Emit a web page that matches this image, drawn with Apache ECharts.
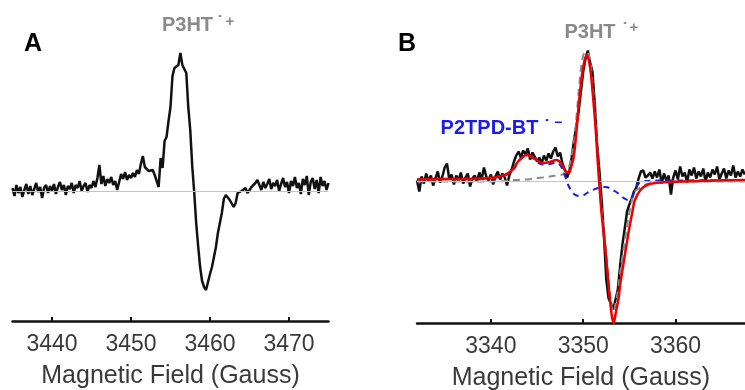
<!DOCTYPE html>
<html>
<head>
<meta charset="utf-8">
<script src="https://cdn.jsdelivr.net/npm/echarts@6/dist/echarts.min.js"></script>
<style>
  html, body { margin: 0; padding: 0; background: #fff; }
  #chart { width: 745px; height: 390px; }
</style>
</head>
<body>
<div id="chart"></div>
<script>
// ---- Panel A: P3HT radical cation, EPR first-derivative spectrum ----
const fieldStartA = 3435;      // Gauss, first sample
const fieldStepA = 0.25;       // Gauss per sample
const traceA = [
  0.03, -0.05, 0.06, -0.02, 0.04, -0.06, 0.01, 0.07, -0.03, 0.05,
  -0.04, 0.02, 0.08, -0.01, 0.04, -0.07, 0.03, 0.06, -0.02, 0.05,
  0.00, 0.07, -0.03, 0.04, 0.09, 0.01, 0.06, -0.04, 0.05, 0.02,
  0.08, -0.02, 0.06, 0.03, 0.10, 0.00, 0.05, 0.08, -0.01, 0.06,
  0.03, 0.10, 0.04, 0.13, 0.26, 0.07, 0.15, 0.05, 0.12, 0.08,
  0.14, 0.06, 0.10, 0.01, 0.09, 0.17, 0.12, 0.19, 0.11, 0.16,
  0.13, 0.18, 0.14, 0.21, 0.17, 0.27, 0.35, 0.24, 0.22, 0.20,
  0.18, 0.21, 0.16, 0.17, 0.04, 0.33, 0.23, 0.50, 0.54, 0.70,
  0.84, 1.15, 1.23, 1.24, 1.26, 1.38, 1.26, 1.28, 1.18, 0.84,
  0.61, 0.25, -0.01, -0.32, -0.55, -0.76, -0.90, -0.96, -0.99, -1.01,
  -0.83, -0.76, -0.66, -0.56, -0.42, -0.32, -0.22, -0.08, -0.04, -0.06,
  -0.09, -0.07, -0.16, -0.12, -0.02, -0.04, 0.00, -0.01, 0.03, -0.02,
  0.01, 0.04, 0.02, 0.08, 0.11, 0.06, 0.01, 0.09, 0.03, 0.07,
  0.12, 0.02, 0.08, 0.05, 0.11, 0.00, 0.07, 0.13, 0.04, 0.09,
  -0.02, 0.10, 0.05, 0.14, 0.03, 0.08, -0.03, 0.12, 0.06, 0.15,
  -0.04, 0.09, 0.13, 0.02, 0.11, -0.02, 0.14, 0.05, 0.10, 0.01, 0.08
];
const ticksA = [3440, 3450, 3460, 3470];

// ---- Panel B: P3HT / P2TPD-BT blend, measured spectrum and fit ----
const fieldStartB = 3332;
const fieldStepB = 0.25;
const traceB = [
  0.01, -0.10, 0.05, -0.02, 0.08, 0.00, 0.06, -0.04, 0.03, 0.10,
  -0.01, 0.05, 0.14, 0.18, 0.02, 0.07, -0.03, 0.06, 0.01, 0.09,
  -0.02, 0.04, 0.08, -0.05, 0.03, 0.06, 0.00, 0.09, 0.02, 0.14,
  0.05, 0.01, 0.07, -0.03, 0.05, 0.10, 0.02, 0.08,
  0.04, -0.04, 0.06, 0.12, 0.20, 0.26, 0.30, 0.24, 0.31, 0.27,
  0.33, 0.22, 0.29, 0.25, 0.20, 0.24, 0.18, 0.26, 0.21, 0.28,
  0.23, 0.30, 0.34, 0.25, 0.29, 0.18, 0.12, 0.04, 0.10, 0.24,
  0.41, 0.55, 0.70, 0.90, 1.10, 1.23, 1.31, 1.19, 1.10, 0.78,
  0.38, 0.11, -0.19, -0.55, -0.98, -1.17, -1.22, -1.28, -1.18, -1.08,
  -0.84, -0.63, -0.47, -0.30, -0.23, -0.17, -0.10, -0.06, 0.03, 0.10,
  0.11, 0.04, 0.06, 0.09,
  0.03, 0.10, 0.04, 0.12, -0.02, 0.08, 0.01, 0.06, -0.13, 0.04,
  0.11, 0.02, 0.15, 0.05, 0.09, -0.01, 0.12, 0.06, 0.14, 0.03,
  0.10, 0.05, 0.13, 0.00, 0.09, 0.04, 0.12, 0.07, 0.15, 0.02,
  0.08, 0.13, 0.03, 0.11, 0.06, 0.16, 0.04, 0.10, 0.05, 0.12, 0.07
];
// fit components sampled on a common field grid
const fitField = [
  3332.0, 3334.5, 3337.7, 3340.4, 3341.5, 3342.3, 3342.9, 3343.5, 3343.9, 3344.5,
  3345.0, 3345.6, 3346.4, 3347.1, 3347.6, 3348.0, 3348.4, 3348.7, 3349.0, 3349.3,
  3349.6, 3350.0, 3350.4, 3350.7, 3350.9, 3351.3, 3351.6, 3351.8, 3352.0, 3352.4,
  3352.6, 3352.9, 3353.1, 3353.3, 3353.5, 3353.8, 3354.0, 3354.3, 3354.9, 3355.3,
  3355.6, 3356.2, 3356.9, 3357.8, 3359.4, 3362.6, 3367.5
];
const fitTotal = [
  0.02, 0.025, 0.025, 0.04, 0.065, 0.115, 0.195, 0.25, 0.265, 0.245,
  0.21, 0.185, 0.195, 0.215, 0.185, 0.115, 0.085, 0.145, 0.265, 0.535,
  0.845, 1.145, 1.265, 1.165, 1.015, 0.585, 0.16, -0.10, -0.33, -0.68,
  -0.88, -1.185, -1.345, -1.415, -1.325, -1.185, -1.035, -0.855, -0.515, -0.315,
  -0.185, -0.085, -0.035, -0.015, -0.005, 0.005, 0.015
];
const fitAnion = [
  0.02, 0.025, 0.025, 0.04, 0.06, 0.10, 0.185, 0.245, 0.26, 0.235,
  0.195, 0.17, 0.175, 0.19, 0.15, 0.06, -0.04, -0.09, -0.125, -0.14,
  -0.145, -0.14, -0.115, -0.10, -0.09, -0.075, -0.065, -0.055, -0.055, -0.055,
  -0.058, -0.07, -0.08, -0.09, -0.10, -0.12, -0.135, -0.16, -0.185, -0.155,
  -0.085, -0.005, 0.005, 0.01, 0.01, 0.012, 0.015
];
const fitCation = [
  0.0, 0.0, 0.0, 0.0, 0.005, 0.015, 0.015, 0.02, 0.02, 0.025,
  0.035, 0.04, 0.05, 0.06, 0.065, 0.085, 0.135, 0.235, 0.39, 0.675,
  0.99, 1.26, 1.30, 1.23, 1.10, 0.66, 0.22, -0.045, -0.27, -0.62,
  -0.82, -1.11, -1.26, -1.31, -1.22, -1.07, -0.91, -0.72, -0.36, -0.18,
  -0.10, -0.06, -0.025, -0.01, 0.0, 0.0, 0.0
];
const ticksB = [3340, 3350, 3360];

const pairs = (start, step, ys) => ys.map((v, i) => [start + i * step, v]);
const zip = (xs, ys) => xs.map((x, i) => [x, ys[i]]);

const sans = '"Liberation Sans", Arial, Helvetica, sans-serif';
const axisColor = '#111';
const labelColor = '#3a3a3a';

function fieldAxis(gridIndex, min, max, ticks) {
  return {
    gridIndex, type: 'value', min, max,
    axisLine: { show: true, onZero: false, lineStyle: { color: axisColor, width: 2.5 } },
    axisTick: { show: true, inside: true, length: 4, customValues: ticks,
                lineStyle: { color: axisColor, width: 2 } },
    axisLabel: { customValues: ticks, formatter: v => String(v),
                 fontSize: 23, color: labelColor, margin: 12, fontFamily: sans },
    splitLine: { show: false },
    name: 'Magnetic Field (Gauss)',
    nameLocation: 'middle', nameGap: 43,
    nameTextStyle: { fontSize: 25, color: labelColor, fontFamily: sans }
  };
}

const zeroLine = {
  silent: true, symbol: 'none', label: { show: false },
  lineStyle: { color: '#c4c4c4', width: 1, type: 'solid' },
  data: [{ yAxis: 0 }]
};

function txt(text, x, y, size, color, bold) {
  return {
    type: 'text', x, y, silent: true,
    style: {
      text, fill: color,
      font: (bold ? 'bold ' : '') + size + 'px ' + sans,
      align: 'center', verticalAlign: 'middle',
      textAlign: 'center', textVerticalAlign: 'middle'
    }
  };
}

const chart = echarts.init(document.getElementById('chart'), null, { renderer: 'canvas' });
chart.setOption({
  animation: false,
  backgroundColor: '#fff',
  grid: [
    { left: 12.5, top: 41, width: 316, height: 280, outerBoundsMode: 'none' },
    { left: 417, top: 31.5, width: 327.8, height: 291.5, outerBoundsMode: 'none' }
  ],
  xAxis: [
    fieldAxis(0, 3435, 3475, ticksA),
    fieldAxis(1, 3332, 3367.5, ticksB)
  ],
  yAxis: [
    { gridIndex: 0, type: 'value', min: -1.3, max: 1.5, show: false },
    { gridIndex: 1, type: 'value', min: -1.415, max: 1.5, show: false }
  ],
  series: [
    { type: 'line', xAxisIndex: 0, yAxisIndex: 0, data: [], markLine: zeroLine, z: 1 },
    { type: 'line', xAxisIndex: 0, yAxisIndex: 0, data: pairs(fieldStartA, fieldStepA, traceA),
      symbol: 'none', lineStyle: { color: '#111', width: 2.5 }, z: 2 },
    { type: 'line', xAxisIndex: 1, yAxisIndex: 1, data: [], markLine: zeroLine, z: 1 },
    { type: 'line', xAxisIndex: 1, yAxisIndex: 1, data: pairs(fieldStartB, fieldStepB, traceB),
      symbol: 'none', lineStyle: { color: '#111', width: 2.5 }, z: 2 },
    { type: 'line', xAxisIndex: 1, yAxisIndex: 1, data: zip(fitField, fitCation),
      symbol: 'none', smooth: 0.35, lineStyle: { color: '#8a8a8a', width: 2, type: [7, 5] }, z: 3 },
    { type: 'line', xAxisIndex: 1, yAxisIndex: 1, data: zip(fitField, fitAnion),
      symbol: 'none', smooth: 0.35, lineStyle: { color: '#1c1ce6', width: 2, type: [6, 5] }, z: 4 },
    { type: 'line', xAxisIndex: 1, yAxisIndex: 1, data: zip(fitField, fitTotal),
      symbol: 'none', smooth: 0.35, lineStyle: { color: '#ee0000', width: 2.5 }, z: 5 }
  ],
  graphic: [
    txt('A', 33, 44, 25, '#000', true),
    txt('B', 407, 44, 25, '#000', true),
    txt('P3HT', 187.5, 25, 20, '#8a8a8a', true),
    txt('\u02D9', 220, 24, 18, '#8a8a8a', true),
    txt('+', 230, 22, 15, '#8a8a8a', true),
    txt('P3HT', 590, 32.5, 20, '#8a8a8a', true),
    txt('\u02D9', 625, 31, 18, '#8a8a8a', true),
    txt('+', 634, 28, 15, '#8a8a8a', true),
    txt('P2TPD-BT', 489.5, 128.5, 20, '#1c1ce6', true),
    txt('\u02D9', 547, 128, 18, '#1c1ce6', true),
    txt('\u2212', 558, 123, 14, '#1c1ce6', true)
  ]
});
</script>
</body>
</html>
